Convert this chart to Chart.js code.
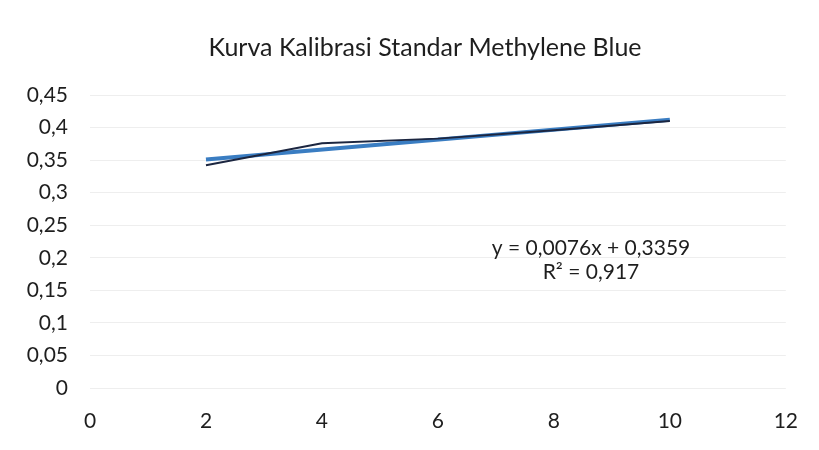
<!DOCTYPE html>
<html>
<head>
<meta charset="utf-8">
<script src="https://cdn.jsdelivr.net/npm/chart.js@4/dist/chart.umd.min.js"></script>
<style>
  html, body { margin: 0; padding: 0; background: #fff; }
  #wrap { width: 819px; height: 450px; }
</style>
</head>
<body>
<div id="wrap"><canvas id="chart" width="819" height="450"></canvas></div>
<script>
"use strict";

// data
const konsentrasi = [2, 4, 6, 8, 10];
const absorbansi = [0.342, 0.376, 0.383, 0.396, 0.410];

// trendline as printed on the chart
const slope = 0.0076;
const intercept = 0.3359;
const rSquared = 0.917;

const judul = "Kurva Kalibrasi Standar Methylene Blue";
const xTicks = [0, 2, 4, 6, 8, 10, 12];
const yTicks = [0, 0.05, 0.1, 0.15, 0.2, 0.25, 0.3, 0.35, 0.4, 0.45];

const fontName = "Lato, 'Open Sans', sans-serif";
const textColor = "#1e1e1e";

function koma(v) {
  return String(Number(v.toFixed(4))).replace(".", ",");
}

const dataPoints = konsentrasi.map((x, i) => ({ x: x, y: absorbansi[i] }));
const xFirst = konsentrasi[0];
const xLast = konsentrasi[konsentrasi.length - 1];
const trendPoints = [xFirst, xLast].map(x => ({ x: x, y: slope * x + intercept }));

// title and trendline label, placed like the excel chart
const chartTexts = {
  id: "chartTexts",
  afterDatasetsDraw(chart) {
    const ctx = chart.ctx;
    ctx.save();
    ctx.fillStyle = textColor;
    ctx.textAlign = "center";
    ctx.textBaseline = "middle";
    ctx.font = "25px " + fontName;
    ctx.fillText(judul, 425, 48);
    ctx.font = "21px " + fontName;
    ctx.fillText("y = " + koma(slope) + "x + " + koma(intercept), 591, 248);
    ctx.fillText("R² = " + koma(rSquared), 591, 272);
    ctx.restore();
  }
};

new Chart("chart", {
  type: "scatter",
  data: {
    datasets: [{
      label: "Absorbansi",
      data: dataPoints,
      showLine: true,
      borderColor: "#1c2640",
      borderWidth: 2,
      pointRadius: 0,
      lineTension: 0,
      order: 0
    }, {
      label: "Linear",
      data: trendPoints,
      showLine: true,
      borderColor: "#3a7dc2",
      borderWidth: 4,
      pointRadius: 0,
      order: 1
    }]
  },
  options: {
    responsive: false,
    animation: false,
    layout: { padding: { left: 0, right: 29, top: 95, bottom: 0 } },
    plugins: {
      legend: { display: false },
      tooltip: { enabled: false },
      title: { display: false }
    },
    scales: {
      x: {
        type: "linear",
        min: 0,
        max: 12,
        afterBuildTicks(axis) { axis.ticks = xTicks.map(v => ({ value: v })); },
        afterFit(axis) { axis.height = 62; },
        grid: { display: false, drawTicks: false },
        border: { display: false },
        ticks: {
          padding: 21,
          color: textColor,
          font: { family: fontName, size: 21 },
          callback: v => koma(v)
        }
      },
      y: {
        min: 0,
        max: 0.45,
        afterBuildTicks(axis) { axis.ticks = yTicks.map(v => ({ value: v })); },
        afterFit(axis) { axis.width = 90; },
        grid: { color: "#eeeeee", drawTicks: false },
        border: { display: false },
        ticks: {
          padding: 22,
          color: textColor,
          font: { family: fontName, size: 21 },
          callback: v => koma(v)
        }
      }
    }
  },
  plugins: [chartTexts]
});
</script>
</body>
</html>
